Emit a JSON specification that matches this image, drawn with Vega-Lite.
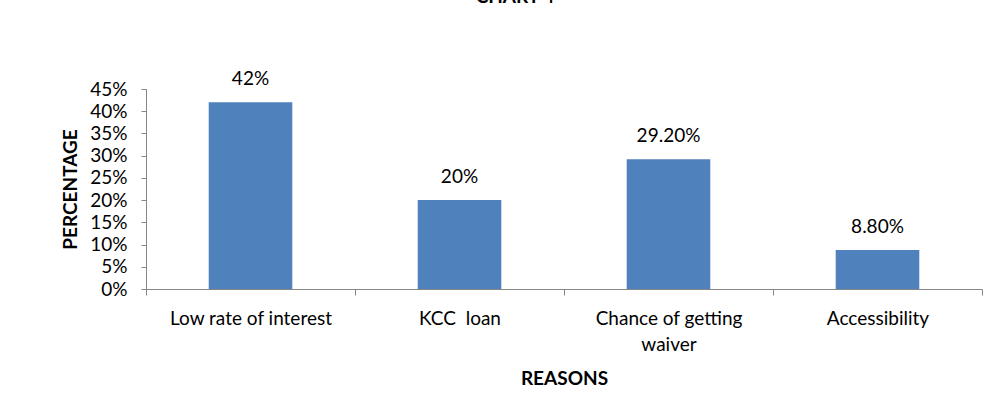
{
  "$schema": "https://vega.github.io/schema/vega-lite/v6.json",
  "width": 836,
  "height": 200,
  "autosize": {"type": "none"},
  "padding": {"left": 146, "top": 89, "right": 26, "bottom": 118},
  "background": "white",
  "config": {
    "view": {"stroke": null},
    "font": "Lato",
    "axis": {"labelFont": "Lato", "titleFont": "Lato", "labelColor": "#000000", "titleColor": "#000000", "domainColor": "#868686", "tickColor": "#868686", "grid": false}
  },
  "title": {
    "text": "CHART 4",
    "font": "Lato",
    "fontSize": 19,
    "fontWeight": "bold",
    "color": "#000000",
    "anchor": "middle",
    "baseline": "alphabetic",
    "offset": 48,
    "dx": -49
  },
  "data": {
    "values": [
      {"reason": "Low rate of interest", "pct": 42, "label": "42%"},
      {"reason": "KCC  loan", "pct": 20, "label": "20%"},
      {"reason": "Chance of getting waiver", "pct": 29.2, "label": "29.20%"},
      {"reason": "Accessibility", "pct": 8.8, "label": "8.80%"}
    ]
  },
  "encoding": {
    "x": {
      "field": "reason",
      "type": "nominal",
      "sort": null,
      "scale": {"paddingInner": 0, "paddingOuter": 0},
      "axis": {
        "title": "REASONS",
        "titleFontSize": 19,
        "titleFontWeight": "bold",
        "titlePadding": 15,
        "labelFontSize": 19,
        "labelAngle": 0,
        "labelPadding": 14,
        "labelLineHeight": 26,
        "labelLimit": 300,
        "tickSize": 6,
        "tickBand": "extent",
        "labelExpr": "!isString(datum.value) ? '' : datum.value == 'Chance of getting waiver' ? ['Chance of getting', 'waiver'] : replace(datum.value, '  ', ' \u00a0')"
      }
    },
    "y": {
      "field": "pct",
      "type": "quantitative",
      "scale": {"domain": [0, 45], "nice": false},
      "axis": {
        "title": "PERCENTAGE",
        "titleFontSize": 19,
        "titleFontWeight": "bold",
        "titlePadding": 9,
        "labelFontSize": 19,
        "labelPadding": 14,
        "tickSize": 5,
        "values": [0, 5, 10, 15, 20, 25, 30, 35, 40, 45],
        "labelExpr": "datum.value + '%'"
      }
    }
  },
  "layer": [
    {
      "mark": {"type": "bar", "color": "#4F81BD", "width": {"band": 0.4}}
    },
    {
      "mark": {"type": "text", "font": "Lato", "fontSize": 19, "color": "#000000", "baseline": "alphabetic", "dy": -17},
      "encoding": {"text": {"field": "label"}}
    }
  ]
}
